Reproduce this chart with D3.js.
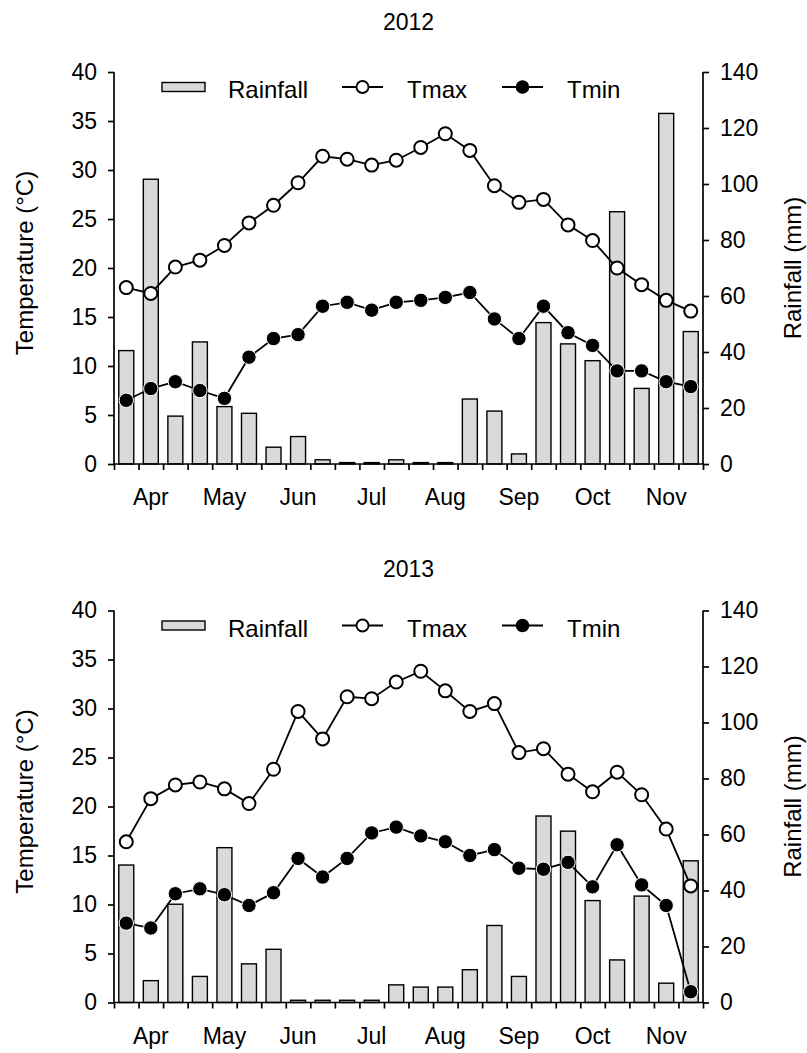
<!DOCTYPE html>
<html>
<head>
<meta charset="utf-8">
<script src="https://cdn.jsdelivr.net/npm/d3@7"></script>
<style>
  body { margin: 0; background: #fff; }
  svg text { font-family: "Liberation Sans", Arial, sans-serif; fill: #000; }
</style>
</head>
<body>
<div id="chart"></div>
<script>
// 旬別データ (Apr - Nov, 24 periods)
const months = ["Apr", "May", "Jun", "Jul", "Aug", "Sep", "Oct", "Nov"];
const rain2012 = [40.5, 101.7, 17.1, 43.6, 20.5, 18.1, 6.0, 9.8, 1.5, 0.5, 0.5, 1.5,
                  0.5, 0.5, 23.2, 18.9, 3.6, 50.5, 42.9, 36.9, 90.1, 27.0, 125.2, 47.3];
const tmax2012 = [18.0, 17.4, 20.1, 20.8, 22.3, 24.6, 26.4, 28.7, 31.4, 31.1, 30.5, 31.0,
                  32.3, 33.7, 32.0, 28.4, 26.7, 27.0, 24.4, 22.8, 20.0, 18.3, 16.7, 15.6];
const tmin2012 = [6.5, 7.7, 8.4, 7.5, 6.7, 10.9, 12.8, 13.2, 16.1, 16.5, 15.7, 16.5,
                  16.7, 17.0, 17.5, 14.8, 12.8, 16.1, 13.4, 12.1, 9.5, 9.5, 8.4, 7.9];
const rain2013 = [49.1, 7.8, 35.1, 9.3, 55.3, 13.8, 19.0, 0.8, 0.8, 0.8, 0.8, 6.3,
                  5.5, 5.5, 11.7, 27.5, 9.3, 66.6, 61.2, 36.4, 15.2, 38.0, 6.9, 50.6];
const tmax2013 = [16.4, 20.8, 22.2, 22.5, 21.8, 20.3, 23.8, 29.7, 26.9, 31.2, 31.0, 32.7,
                  33.8, 31.8, 29.7, 30.5, 25.5, 25.9, 23.3, 21.5, 23.5, 21.2, 17.7, 11.9];
const tmin2013 = [8.1, 7.6, 11.1, 11.6, 11.0, 9.9, 11.2, 14.7, 12.8, 14.7, 17.3, 17.9,
                  17.0, 16.4, 15.0, 15.6, 13.7, 13.6, 14.3, 11.8, 16.1, 12.0, 9.9, 1.1];
const tempTicks = d3.range(0, 41, 5);
const rainTicks = d3.range(0, 141, 20);

const W = 807, H = 1053;
const svg = d3.select("#chart").append("svg")
    .attr("width", W)
    .attr("height", H);

function panel(year, rain, tmax, tmin, top, titleY) {
    const left = 114, right = 703;
    const plotTop = top, plotBot = top + 392;
    const g = svg.append("g");

    const x = d3.scaleBand().domain(d3.range(rain.length))
        .range([left, right]).paddingInner(0.39).paddingOuter(0.195);
    const xb = d3.scaleLinear().domain([0, rain.length]).range([left, right]);
    const yT = d3.scaleLinear().domain([0, 40]).range([plotBot, plotTop]);
    const yR = d3.scaleLinear().domain([0, 140]).range([plotBot, plotTop]);

    // title
    g.append("text")
        .attr("x", (left + right) / 2).attr("y", titleY)
        .attr("text-anchor", "middle")
        .style("font-size", "23px")
        .text(year);

    // bars
    g.selectAll("rect.bar").data(rain).enter().append("rect")
        .attr("class", "bar")
        .attr("x", (d, i) => x(i))
        .attr("width", x.bandwidth())
        .attr("y", d => yR(d))
        .attr("height", d => plotBot - yR(d))
        .attr("fill", "#d9d9d9")
        .attr("stroke", "#000")
        .attr("stroke-width", 1.4);

    // axes
    const axL = g.append("g").attr("transform", "translate(" + left + ",0)")
        .call(d3.axisLeft(yT).tickValues(tempTicks).tickSize(6).tickPadding(11));
    const axR = g.append("g").attr("transform", "translate(" + right + ",0)")
        .call(d3.axisRight(yR).tickValues(rainTicks).tickSize(6).tickPadding(11));
    const axB = g.append("g").attr("transform", "translate(0," + plotBot + ")")
        .call(d3.axisBottom(xb).tickValues(d3.range(rain.length + 1)).tickSize(6).tickFormat(""));
    [axL, axR, axB].forEach(a => {
        a.selectAll("path").attr("stroke-width", 1.7).attr("d", null);
        a.selectAll("line").attr("stroke-width", 1.7);
        a.selectAll("text").style("font-size", "23px");
    });
    axL.select("path").attr("d", "M0," + plotTop + "V" + plotBot);
    axR.select("path").attr("d", "M0," + plotTop + "V" + plotBot);
    axB.select("path").attr("d", "M" + left + ",0H" + right);

    // month labels (centre of the middle period)
    g.selectAll("text.month").data(months).enter().append("text")
        .attr("class", "month")
        .attr("x", (d, i) => x(i * 3 + 1) + x.bandwidth() / 2)
        .attr("y", plotBot + 41)
        .attr("text-anchor", "middle")
        .style("font-size", "23px")
        .text(d => d);

    // axis titles
    g.append("text")
        .attr("transform", "translate(33," + ((plotTop + plotBot) / 2 - 5) + ") rotate(-90)")
        .attr("text-anchor", "middle")
        .style("font-size", "24px")
        .text("Temperature (°C)");
    g.append("text")
        .attr("transform", "translate(801," + (plotTop + plotBot) / 2 + ") rotate(-90)")
        .attr("text-anchor", "middle")
        .style("font-size", "24px")
        .text("Rainfall (mm)");

    const cx = (d, i) => x(i) + x.bandwidth() / 2;
    const line = d3.line().x(cx);

    // Tmax
    g.append("path").datum(tmax)
        .attr("d", line.y(d => yT(d)))
        .attr("fill", "none").attr("stroke", "#000").attr("stroke-width", 1.8);
    g.selectAll("circle.tmax").data(tmax).enter().append("circle")
        .attr("class", "tmax")
        .attr("cx", cx).attr("cy", d => yT(d)).attr("r", 6.5)
        .attr("fill", "#fff").attr("stroke", "#000").attr("stroke-width", 2);

    // Tmin
    g.append("path").datum(tmin)
        .attr("d", line.y(d => yT(d)))
        .attr("fill", "none").attr("stroke", "#000").attr("stroke-width", 1.8);
    g.selectAll("circle.tmin").data(tmin).enter().append("circle")
        .attr("class", "tmin")
        .attr("cx", cx).attr("cy", d => yT(d)).attr("r", 7.2)
        .attr("fill", "#000").attr("stroke", "#fff").attr("stroke-width", 1);

    // legend
    const ly = top + 15;
    const lg = g.append("g").style("font-size", "24px");
    lg.append("rect").attr("x", 162).attr("y", ly - 4.5).attr("width", 43).attr("height", 9)
        .attr("fill", "#d9d9d9").attr("stroke", "#000").attr("stroke-width", 1.4);
    lg.append("text").attr("x", 228).attr("y", ly + 11).text("Rainfall");
    lg.append("line").attr("x1", 342).attr("x2", 383).attr("y1", ly).attr("y2", ly)
        .attr("stroke", "#000").attr("stroke-width", 1.8);
    lg.append("circle").attr("cx", 362.5).attr("cy", ly).attr("r", 6)
        .attr("fill", "#fff").attr("stroke", "#000").attr("stroke-width", 1.8);
    lg.append("text").attr("x", 407).attr("y", ly + 11).text("Tmax");
    lg.append("line").attr("x1", 502).attr("x2", 543).attr("y1", ly).attr("y2", ly)
        .attr("stroke", "#000").attr("stroke-width", 1.8);
    lg.append("circle").attr("cx", 522.5).attr("cy", ly).attr("r", 6.8)
        .attr("fill", "#000");
    lg.append("text").attr("x", 567).attr("y", ly + 11).text("Tmin");
}

panel("2012", rain2012, tmax2012, tmin2012, 72, 30);
panel("2013", rain2013, tmax2013, tmin2013, 610.5, 577);
</script>
</body>
</html>
